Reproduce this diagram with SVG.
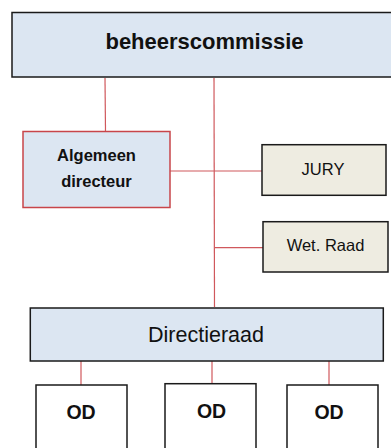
<svg xmlns="http://www.w3.org/2000/svg" width="391" height="448" viewBox="0 0 391 448">
<style>
.box{stroke:#1a1a1a;stroke-width:1.5}
.blue{fill:#DCE6F2}
.beige{fill:#EEECE1}
.white{fill:#FFFFFF}
.red{stroke:#C8454A;stroke-width:1.5}
.con{stroke:#D0585C;stroke-width:1.2;fill:none}
text{font-family:"Liberation Sans",Arial,sans-serif;fill:#111;text-anchor:middle}
.b{font-weight:bold}
</style>
<rect width="391" height="448" fill="#fff"/>
<g id="connectors">
<line class="con" x1="105" y1="78" x2="105.5" y2="131.5"/>
<line class="con" x1="214" y1="78" x2="214.5" y2="307"/>
<line class="con" x1="170" y1="171" x2="262" y2="171"/>
<line class="con" x1="214.5" y1="247.7" x2="263" y2="247.7"/>
<line class="con" x1="81" y1="361" x2="81" y2="385"/>
<line class="con" x1="212" y1="361" x2="212" y2="383.7"/>
<line class="con" x1="329" y1="361" x2="329" y2="385"/>
</g>
<g id="beheerscommissie">
<rect class="box blue" x="12" y="12.5" width="390" height="64.5"/>
<text class="b" x="204.5" y="49" font-size="22">beheerscommissie</text>
</g>
<g id="algemeen-directeur">
<rect class="red blue" x="23" y="131.5" width="147" height="76"/>
<text class="b" x="96.5" y="160.7" font-size="16.5">Algemeen</text>
<text class="b" x="96.5" y="187.3" font-size="16.5">directeur</text>
</g>
<g id="jury">
<rect class="box beige" x="262" y="144.7" width="124" height="50.6"/>
<text x="323" y="174.5" font-size="16.5">JURY</text>
</g>
<g id="wet-raad">
<rect class="box beige" x="263" y="221.7" width="125" height="50.3"/>
<text x="325.5" y="251" font-size="16.5">Wet. Raad</text>
</g>
<g id="directieraad">
<rect class="box blue" x="30.3" y="308" width="353" height="53"/>
<text x="206" y="341.7" font-size="21.5">Directieraad</text>
</g>
<g id="od1">
<rect class="box white" x="36" y="385" width="91" height="70"/>
<text class="b" x="81" y="419.3" font-size="19.5">OD</text>
</g>
<g id="od2">
<rect class="box white" x="165" y="383.7" width="91" height="70"/>
<text class="b" x="211.5" y="418" font-size="19.5">OD</text>
</g>
<g id="od3">
<rect class="box white" x="287" y="385" width="91" height="70"/>
<text class="b" x="329" y="419.3" font-size="19.5">OD</text>
</g>
</svg>
